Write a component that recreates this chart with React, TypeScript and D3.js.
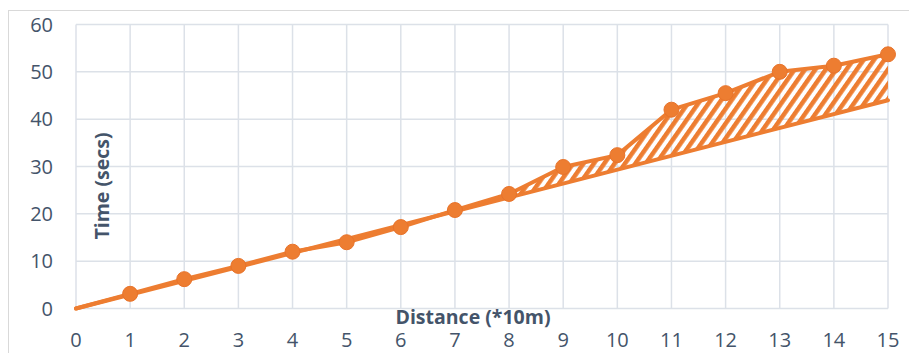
import React from "react";
import * as d3 from "d3";

const distances = [0, 1, 2, 3, 4, 5, 6, 7, 8, 9, 10, 11, 12, 13, 14, 15];
const measuredTimes = [0, 3.1, 6.2, 9.0, 12.0, 14.0, 17.2, 20.8, 24.2, 29.9, 32.4, 42.0, 45.5, 50.0, 51.3, 53.7];
const baselineDistances = [0, 15];
const baselineTimes = [0, 44];
const yTicks = [0, 10, 20, 30, 40, 50, 60];
const xTicks = [0, 1, 2, 3, 4, 5, 6, 7, 8, 9, 10, 11, 12, 13, 14, 15];
const xTitle = "Distance (*10m)";
const yTitle = "Time (secs)";

const W = 909;
const H = 353;
const ORANGE = "#ED7D31";
const GRID = "#DCE1E8";
const TEXT = "#44546A";
const FONT = "'Open Sans', sans-serif";

export default function App() {
  const x = d3.scaleLinear().domain([0, 15]).range([76, 888]);
  const y = d3.scaleLinear().domain([0, 60]).range([308.5, 24.5]);
  const base = d3.scaleLinear().domain(baselineDistances).range(baselineTimes);

  const pts = distances.map((d, i) => ({ d, t: measuredTimes[i] }));
  const lineGen = d3
    .line<{ d: number; t: number }>()
    .x((p) => x(p.d))
    .y((p) => y(p.t));
  const baseLine = d3
    .line<number>()
    .x((d) => x(d))
    .y((_, i) => y(baselineTimes[i]));
  const area = d3
    .area<{ d: number; t: number }>()
    .x((p) => x(p.d))
    .y0((p) => y(base(p.d)))
    .y1((p) => y(Math.max(p.t, base(p.d))));

  return (
    <svg
      width={W}
      height={H}
      style={{ position: "absolute", left: 0, top: 0, background: "#fff" }}
    >
      <defs>
        <pattern
          id="hatch"
          width={8.5}
          height={8.5}
          patternUnits="userSpaceOnUse"
          patternTransform="rotate(35)"
        >
          <rect x={0} y={0} width={4.5} height={8.5} fill={ORANGE} />
        </pattern>
      </defs>
      <rect x={8.5} y={10.5} width={W + 10} height={H + 10} fill="#fff" stroke="#D9D9D9" strokeWidth={1} />
      {yTicks.map((t) => (
        <line key={"gy" + t} x1={x(0)} x2={x(15)} y1={y(t)} y2={y(t)} stroke={GRID} strokeWidth={1.5} />
      ))}
      {xTicks.map((t) => (
        <line key={"gx" + t} x1={x(t)} x2={x(t)} y1={y(0)} y2={y(60)} stroke={GRID} strokeWidth={1.5} />
      ))}
      {yTicks.map((t) => (
        <text
          key={"ly" + t}
          x={53}
          y={y(t)}
          dy="0.35em"
          textAnchor="end"
          fontFamily={FONT}
          fontSize={20}
          fill={TEXT}
        >
          {t}
        </text>
      ))}
      {xTicks.map((t) => (
        <text
          key={"lx" + t}
          x={x(t)}
          y={347}
          textAnchor="middle"
          fontFamily={FONT}
          fontSize={20}
          fill={TEXT}
        >
          {t}
        </text>
      ))}
      <path d={area(pts) || ""} fill="url(#hatch)" />
      <path d={baseLine(baselineDistances) || ""} fill="none" stroke={ORANGE} strokeWidth={4} strokeLinecap="round" />
      <path d={lineGen(pts) || ""} fill="none" stroke={ORANGE} strokeWidth={4} strokeLinejoin="round" strokeLinecap="round" />
      {pts.slice(1).map((p) => (
        <circle key={"m" + p.d} cx={x(p.d)} cy={y(p.t)} r={7.5} fill={ORANGE} stroke="#E8732A" strokeWidth={1} />
      ))}
      <text
        x={473}
        y={324}
        textAnchor="middle"
        fontFamily={FONT}
        fontWeight="bold"
        fontSize={19.5}
        fill={TEXT}
      >
        {xTitle}
      </text>
      <text
        transform={`translate(109,186) rotate(-90)`}
        textAnchor="middle"
        fontFamily={FONT}
        fontWeight="bold"
        fontSize={19.5}
        fill={TEXT}
      >
        {yTitle}
      </text>
    </svg>
  );
}
